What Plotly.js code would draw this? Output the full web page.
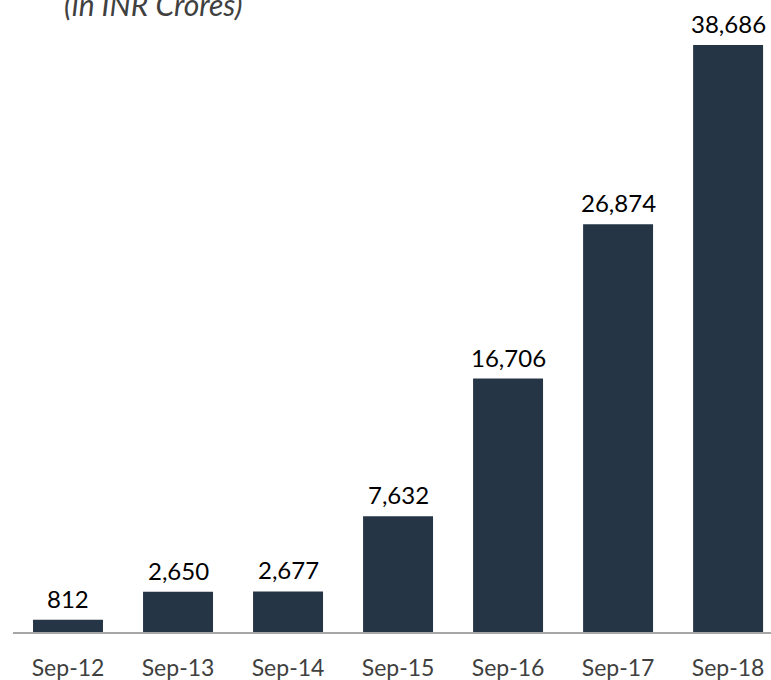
<!DOCTYPE html>
<html>
<head>
<meta charset="utf-8">
<script src="https://cdn.plot.ly/plotly-3.0.1.min.js"></script>
<style>html,body{margin:0;padding:0;background:#fff;}#chart{width:771px;height:680px;}</style>
</head>
<body>
<div id="chart"></div>
<script>
const categories = ["Sep-12", "Sep-13", "Sep-14", "Sep-15", "Sep-16", "Sep-17", "Sep-18"];
const values = [812, 2650, 2677, 7632, 16706, 26874, 38686];
const labels = ["812", "2,650", "2,677", "7,632", "16,706", "26,874", "38,686"];
const subtitle = "(in INR Crores)";

const FONT = "Lato, 'Open Sans', sans-serif";

const trace = {
  type: "bar",
  x: categories,
  y: values,
  marker: {color: "#263546"},
  hoverinfo: "skip"
};

const valueAnnotations = categories.map((c, i) => ({
  x: c, y: values[i], xref: "x", yref: "y",
  text: labels[i],
  showarrow: false,
  xanchor: "center", yanchor: "bottom",
  yshift: 5,
  font: {family: FONT, size: 24, color: "#000000"}
}));

const layout = {
  width: 771,
  height: 680,
  margin: {l: 13, r: 0, t: 0, b: 48},
  paper_bgcolor: "#ffffff",
  plot_bgcolor: "#ffffff",
  showlegend: false,
  bargap: 0.364,
  xaxis: {
    type: "category",
    range: [-0.5, 6.39],
    showgrid: false,
    zeroline: false,
    showline: true,
    linecolor: "#a6a6a6",
    linewidth: 2,
    ticks: "",
    ticklabelstandoff: 14,
    tickfont: {family: FONT, size: 23, color: "#404040"},
    fixedrange: true
  },
  yaxis: {
    range: [0, 41660],
    showgrid: false,
    zeroline: false,
    showline: false,
    showticklabels: false,
    ticks: "",
    fixedrange: true
  },
  annotations: valueAnnotations.concat([{
    text: "<i>" + subtitle + "</i>",
    xref: "paper", yref: "paper",
    x: (62 - 13) / 758, y: 1 - 24 / 632,
    xanchor: "left", yanchor: "bottom",
    showarrow: false,
    font: {family: FONT, size: 30, color: "#404040"}
  }])
};

Plotly.newPlot("chart", [trace], layout, {displayModeBar: false, staticPlot: true});
</script>
</body>
</html>
